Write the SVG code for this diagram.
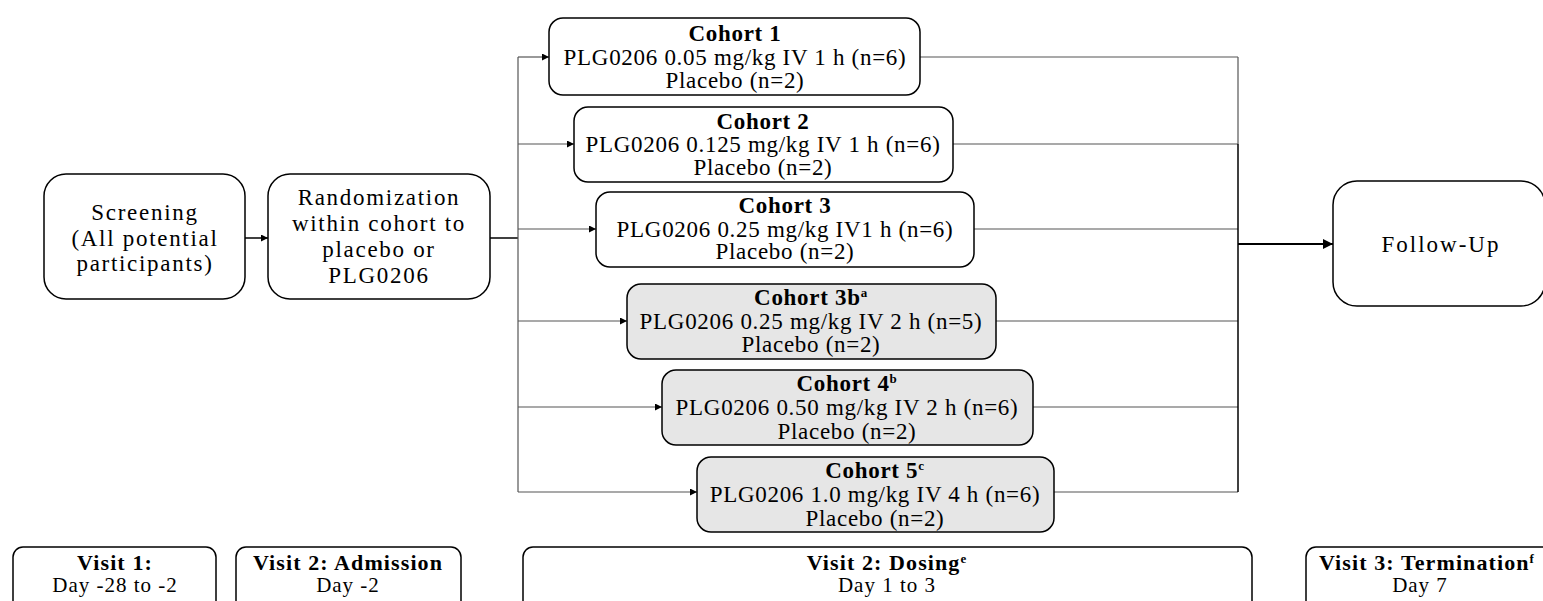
<svg xmlns="http://www.w3.org/2000/svg" width="1543" height="601" viewBox="0 0 1543 601">
<defs>
<style>
.box{fill:#fff;stroke:#000;stroke-width:1.5}
.gray{fill:#e6e6e6;stroke:#000;stroke-width:1.5}
.t{font-family:"Liberation Serif","Times New Roman",serif;font-size:23px;fill:#000;text-anchor:middle}
.c{letter-spacing:0.7px}
.l{letter-spacing:1.7px}
.b{font-weight:bold}
.v{font-size:21px;letter-spacing:1px}
.vb{font-size:22px;letter-spacing:1.1px;font-weight:bold}
.sup{font-size:13px}
.conn{stroke:#555;stroke-width:1.2;fill:none}
.trunk{stroke:#000;stroke-width:1.5;fill:none}
</style>
<marker id="ah" viewBox="0 0 10 10" refX="10" refY="5" markerWidth="9" markerHeight="7" markerUnits="userSpaceOnUse" orient="auto">
<path d="M0,0 L10,5 L0,10 z" fill="#000"/>
</marker>
<marker id="ahb" viewBox="0 0 10 10" refX="10" refY="5" markerWidth="12" markerHeight="10" markerUnits="userSpaceOnUse" orient="auto">
<path d="M0,0 L10,5 L0,10 z" fill="#000"/>
</marker>
</defs>

<g id="connectors">
<line class="trunk" x1="245" y1="238" x2="268" y2="238" marker-end="url(#ah)"/>
<polyline class="trunk" points="490,238 518,238"/>
<line class="conn" x1="518" y1="57" x2="518" y2="492"/>
<line class="conn" x1="518" y1="57" x2="549" y2="57" marker-end="url(#ah)"/>
<line class="conn" x1="518" y1="144" x2="574" y2="144" marker-end="url(#ah)"/>
<line class="conn" x1="518" y1="229" x2="596" y2="229" marker-end="url(#ah)"/>
<line class="conn" x1="518" y1="321" x2="627" y2="321" marker-end="url(#ah)"/>
<line class="conn" x1="518" y1="407" x2="662" y2="407" marker-end="url(#ah)"/>
<line class="conn" x1="518" y1="492" x2="697" y2="492" marker-end="url(#ah)"/>
<line class="conn" x1="920" y1="57" x2="1238" y2="57"/>
<line class="conn" x1="953" y1="144" x2="1238" y2="144"/>
<line class="conn" x1="974" y1="229" x2="1238" y2="229"/>
<line class="conn" x1="996" y1="321" x2="1238" y2="321"/>
<line class="conn" x1="1033" y1="407" x2="1238" y2="407"/>
<line class="conn" x1="1054" y1="492" x2="1238" y2="492"/>
<line class="conn" x1="1238" y1="57" x2="1238" y2="144"/>
<line class="trunk" x1="1238" y1="144" x2="1238" y2="492"/>
<line x1="1238" y1="244" x2="1333" y2="244" stroke="#000" stroke-width="2.2" marker-end="url(#ahb)"/>
</g>

<g id="screening">
<rect class="box" x="44" y="174" width="201" height="125" rx="22"/>
<text class="t l" x="145" y="220">Screening</text>
<text class="t l" x="145" y="246">(All potential</text>
<text class="t l" x="145" y="271">participants)</text>
</g>

<g id="randomization">
<rect class="box" x="268" y="174" width="222" height="125" rx="22"/>
<text class="t l" x="379" y="205">Randomization</text>
<text class="t l" x="379" y="231">within cohort to</text>
<text class="t l" x="379" y="257">placebo or</text>
<text class="t l" x="379" y="283">PLG0206</text>
</g>

<g id="cohort1">
<rect class="box" x="549" y="18" width="371" height="77" rx="14"/>
<text class="t c b" x="735" y="41">Cohort 1</text>
<text class="t c" x="735" y="65">PLG0206 0.05 mg/kg IV 1 h (n=6)</text>
<text class="t c" x="735" y="88">Placebo (n=2)</text>
</g>

<g id="cohort2">
<rect class="box" x="574" y="107" width="379" height="75" rx="14"/>
<text class="t c b" x="763" y="129">Cohort 2</text>
<text class="t c" x="763" y="152">PLG0206 0.125 mg/kg IV 1 h (n=6)</text>
<text class="t c" x="763" y="175">Placebo (n=2)</text>
</g>

<g id="cohort3">
<rect class="box" x="596" y="192" width="378" height="75" rx="14"/>
<text class="t c b" x="785" y="213">Cohort 3</text>
<text class="t c" x="785" y="237">PLG0206 0.25 mg/kg IV1 h (n=6)</text>
<text class="t c" x="785" y="259">Placebo (n=2)</text>
</g>

<g id="cohort3b">
<rect class="gray" x="627" y="284" width="369" height="75" rx="14"/>
<text class="t c b" x="811" y="305">Cohort 3b<tspan class="sup" dy="-8">a</tspan></text>
<text class="t c" x="811" y="329">PLG0206 0.25 mg/kg IV 2 h (n=5)</text>
<text class="t c" x="811" y="352">Placebo (n=2)</text>
</g>

<g id="cohort4">
<rect class="gray" x="662" y="370" width="371" height="75" rx="14"/>
<text class="t c b" x="847" y="391">Cohort 4<tspan class="sup" dy="-8">b</tspan></text>
<text class="t c" x="847" y="415">PLG0206 0.50 mg/kg IV 2 h (n=6)</text>
<text class="t c" x="847" y="439">Placebo (n=2)</text>
</g>

<g id="cohort5">
<rect class="gray" x="697" y="457" width="357" height="75" rx="14"/>
<text class="t c b" x="875" y="478">Cohort 5<tspan class="sup" dy="-8">c</tspan></text>
<text class="t c" x="875" y="502">PLG0206 1.0 mg/kg IV 4 h (n=6)</text>
<text class="t c" x="875" y="526">Placebo (n=2)</text>
</g>

<g id="followup">
<rect class="box" x="1333" y="181" width="212" height="125" rx="24"/>
<text class="t" x="1441" y="252" style="letter-spacing:2px">Follow-Up</text>
</g>

<g id="visit1">
<rect class="box" x="13" y="547" width="203" height="70" rx="10"/>
<text class="t vb" x="115" y="570">Visit 1:</text>
<text class="t v" x="115" y="592">Day -28 to -2</text>
</g>

<g id="visit2adm">
<rect class="box" x="236" y="547" width="225" height="70" rx="10"/>
<text class="t vb" x="348" y="570">Visit 2: Admission</text>
<text class="t v" x="348" y="592">Day -2</text>
</g>

<g id="visit2dose">
<rect class="box" x="523" y="547" width="729" height="70" rx="10"/>
<text class="t vb" x="887" y="570">Visit 2: Dosing<tspan class="sup" dy="-7">e</tspan></text>
<text class="t v" x="887" y="592">Day 1 to 3</text>
</g>

<g id="visit3">
<rect class="box" x="1306" y="547" width="260" height="70" rx="10"/>
<text class="t vb" x="1427" y="570">Visit 3: Termination<tspan class="sup" dy="-7">f</tspan></text>
<text class="t v" x="1420" y="592">Day 7</text>
</g>
</svg>
